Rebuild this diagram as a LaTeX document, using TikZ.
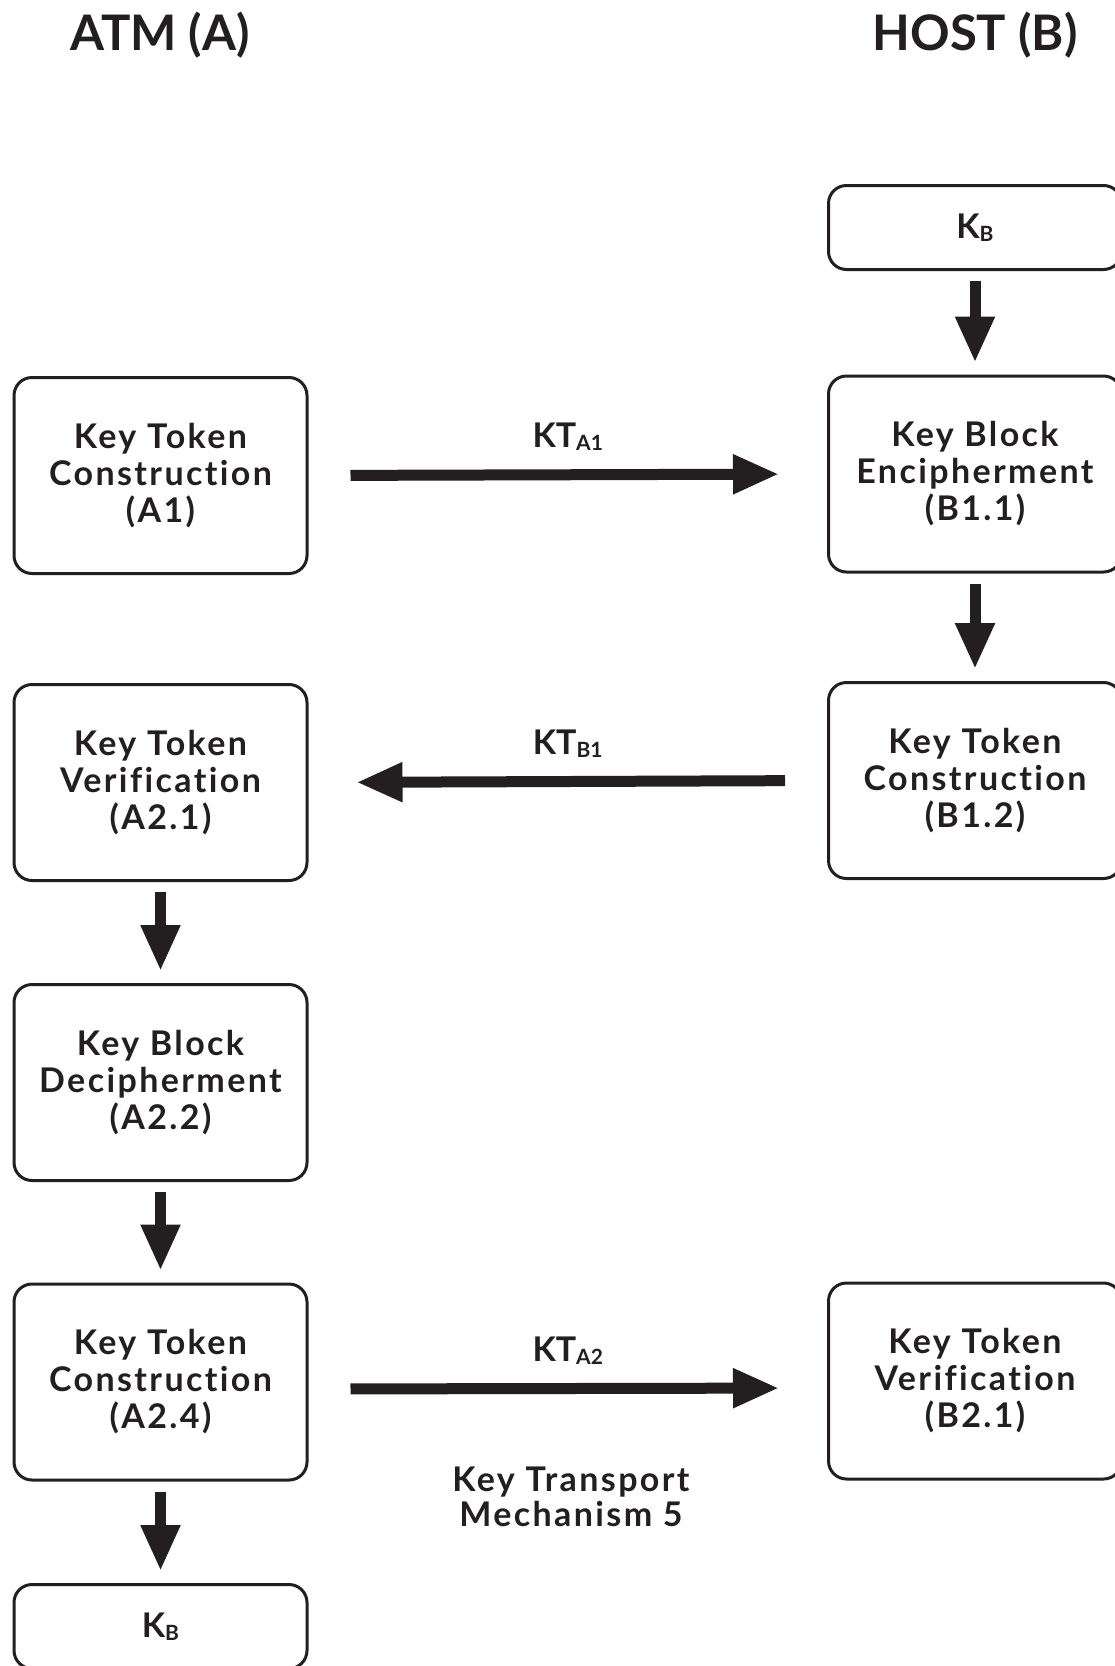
\documentclass[tikz,border=0pt]{standalone}
\usepackage{fontspec}
\setmainfont{Lato}
\newfontfamily\boxfont{Lato}[LetterSpace=7, Ligatures={NoCommon}]
\usetikzlibrary{arrows.meta}
\definecolor{ink}{HTML}{231F20}
\tikzset{
  box/.style={draw=ink, line width=3pt, rounded corners=18pt, minimum width=293pt,
    minimum height=196pt, align=center, inner sep=0pt, text=ink,
    font=\fontsize{34}{37}\boxfont\bfseries},
  keybox/.style={box, minimum height=84pt},
  title/.style={anchor=base, text=ink, inner sep=0pt, font=\fontsize{49}{55}\selectfont\bfseries},
  lbl/.style={midway, anchor=base, yshift=27pt, inner sep=0pt, text=ink,
    font=\fontsize{34}{40}\selectfont\bfseries},
  note/.style={align=center, inner sep=0pt, text=ink, font=\fontsize{34}{35}\boxfont\bfseries},
  varr/.style={draw=ink, line width=11pt, -{Triangle[length=46pt,width=37pt]},
    shorten <=10pt, shorten >=12pt},
  harr/.style={draw=ink, line width=11pt, -{Triangle[length=46pt,width=37pt]},
    shorten <=42pt, shorten >=48pt}
}
\newcommand{\subx}[1]{\raisebox{-3pt}{\fontsize{21}{21}\selectfont #1}}
\begin{document}
\begin{tikzpicture}[x=1pt,y=-1pt]
\clip (0,0) rectangle (1115,1666);
\fill[white] (0,0) rectangle (1115,1666);
% titles
\node[title] (ta) at (160,50) {ATM (A)};
\node[title] (tb) at (975,50) {HOST (B)};
% right column
\node[keybox] (kbt) at (975,227.5) {K\subx{B}};
\node[box] (b11) at (975,474) {Key Block\\Encipherment\\(B1.1)};
\node[box] (b12) at (975,780.5) {Key Token\\Construction\\(B1.2)};
\node[box] (b21) at (975,1381) {Key Token\\Verification\\(B2.1)};
% left column
\node[box] (a1) at (160.5,475.5) {Key Token\\Construction\\(A1)};
\node[box] (a21) at (160.5,782.5) {Key Token\\Verification\\(A2.1)};
\node[box] (a22) at (160.5,1082.5) {Key Block\\Decipherment\\(A2.2)};
\node[box] (a24) at (160.5,1382) {Key Token\\Construction\\(A2.4)};
\node[keybox] (kbb) at (160.5,1626.5) {K\subx{B}};
% vertical arrows
\draw[varr] (kbt) -- (b11);
\draw[varr] (b11) -- (b12);
\draw[varr] (a21) -- (a22);
\draw[varr] (a22) -- (a24);
\draw[varr] (a24) -- (kbb);
% horizontal arrows
\draw[harr] (a1.east) -- node[lbl] (lka1) {KT\subx{A1}} (b11.west);
\draw[harr] (b12.west) -- node[lbl] (lkb1) {KT\subx{B1}} (a21.east);
\draw[harr] ([yshift=-7pt]a24.east) -- node[lbl] (lka2) {KT\subx{A2}} ([yshift=-7pt]b21.west);
\node[note] (ktm) at (571,1497) {Key Transport\\Mechanism 5};
\end{tikzpicture}
\end{document}
